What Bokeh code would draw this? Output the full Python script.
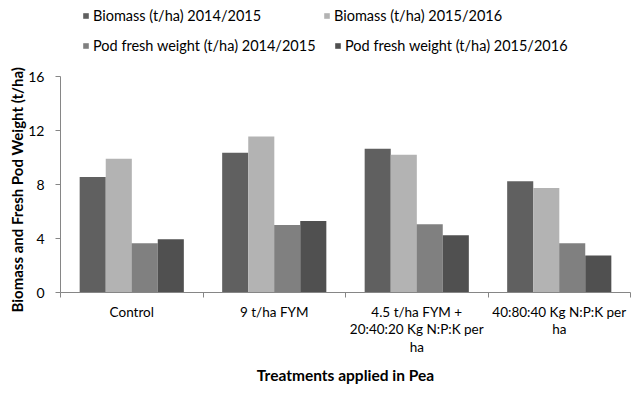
from bokeh.plotting import figure
from bokeh.models import (ColumnDataSource, Range1d, FixedTicker, Legend, LegendItem, Title)
from bokeh.transform import dodge
from bokeh.embed import file_html
from bokeh.resources import INLINE

# ---- data ----
tick_labels = ["Control", "9 t/ha FYM",
               "4.5 t/ha FYM +\n20:40:20 Kg N:P:K per\nha",
               "40:80:40 Kg N:P:K per\nha"]
positions = [0.5, 1.5, 2.5, 3.5]
y_ticks = [0, 4, 8, 12, 16]
biomass_1415 = [8.55, 10.35, 10.65, 8.25]
biomass_1516 = [9.9, 11.55, 10.2, 7.75]
pod_1415 = [3.65, 5.0, 5.05, 3.65]
pod_1516 = [3.95, 5.3, 4.25, 2.75]
series_names = ["Biomass (t/ha) 2014/2015", "Biomass (t/ha) 2015/2016",
                "Pod fresh weight (t/ha) 2014/2015", "Pod fresh weight (t/ha) 2015/2016"]
colors = ["#606060", "#b3b3b3", "#808080", "#505050"]

FONT = "Lato"
TEXT = "#000000"
AXIS = "#868686"

# frame reaches the top of the figure so the legend sits inside it;
# the axis itself is bounded to 0..16
Y_MAX = 16
FRAME_H = 292
AXIS_H = 216
y_top = Y_MAX * FRAME_H / AXIS_H

source = ColumnDataSource(dict(x=positions, b14=biomass_1415, b15=biomass_1516,
                               p14=pod_1415, p15=pod_1516))

p = figure(width=638, height=394, output_backend="svg", toolbar_location=None,
           x_range=Range1d(0, 4), y_range=Range1d(0, y_top),
           min_border_left=60, min_border_right=8, min_border_top=0, min_border_bottom=102)
p.outline_line_color = None
p.xgrid.visible = False
p.ygrid.visible = False

bw = 0.183
offsets = [-0.274, -0.091, 0.091, 0.274]
fields = ["b14", "b15", "p14", "p15"]
renderers = []
for f, off, c in zip(fields, offsets, colors):
    r = p.vbar(x=dodge("x", off), top=f, width=bw, source=source,
               fill_color=c, line_color=None)
    renderers.append(r)

# axes
xa = p.xaxis[0]
xa.ticker = FixedTicker(ticks=positions, minor_ticks=[0, 1, 2, 3, 4])
xa.major_label_overrides = {pos: lab for pos, lab in zip(positions, tick_labels)}
xa.major_tick_line_color = None
xa.minor_tick_line_color = AXIS
xa.minor_tick_in = 0
xa.minor_tick_out = 5
xa.axis_line_color = AXIS
xa.major_label_standoff = 5
xa.major_label_text_font = FONT
xa.major_label_text_font_size = "13.5px"
xa.major_label_text_color = TEXT
xa.major_label_text_line_height = 1.12
xa.axis_label = "Treatments applied in Pea"
xa.axis_label_text_font = FONT
xa.axis_label_text_font_style = "bold"
xa.axis_label_text_font_size = "15.5px"
xa.axis_label_text_color = TEXT
xa.axis_label_standoff = 8

ya = p.yaxis[0]
ya.ticker = FixedTicker(ticks=y_ticks, minor_ticks=[])
ya.bounds = (0, Y_MAX)
ya.axis_line_color = AXIS
ya.major_tick_line_color = AXIS
ya.major_tick_in = 0
ya.major_tick_out = 5
ya.major_label_standoff = 11
ya.major_label_text_font = FONT
ya.major_label_text_font_size = "14px"
ya.major_label_text_color = TEXT

ytitle = Title(text="Biomass and Fresh Pod Weight (t/ha)", align="left", offset=-20,
               standoff=0, text_font=FONT, text_font_style="bold",
               text_font_size="15px", text_color=TEXT)
p.add_layout(ytitle, "left")

# legend: one Legend per item to control positions
legend_locs = [(22, 268.5), (263, 268.5), (22, 238.5), (274, 238.5)]
for name, r, loc in zip(series_names, renderers, legend_locs):
    lg = Legend(items=[LegendItem(label=name, renderers=[r])], location=loc,
                glyph_width=7, glyph_height=7, label_height=7, label_standoff=4,
                padding=0, margin=0, spacing=0, border_line_color=None,
                background_fill_alpha=0, label_text_font=FONT,
                label_text_font_size="14.5px", label_text_color=TEXT)
    p.add_layout(lg)

open("out.html", "w").write(file_html(p, INLINE))
